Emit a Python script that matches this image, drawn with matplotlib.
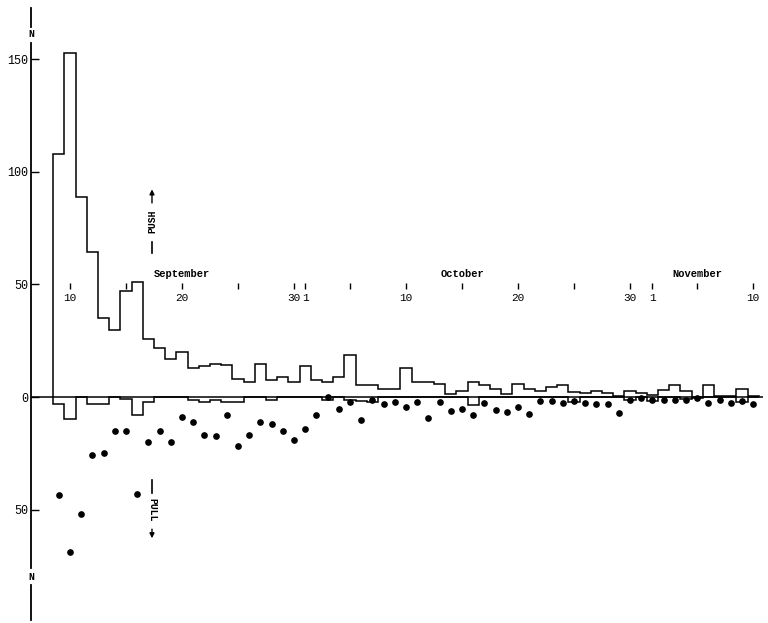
import numpy as np
import matplotlib

matplotlib.use("Agg")
import matplotlib.pyplot as plt

MONO = "Liberation Mono"

# daily counts, one bin per day starting 9 September
first_day = 9
push_counts = [108, 153, 89, 64.6, 35, 30, 47, 51, 26, 22,
               17, 20, 12.7, 14, 14.8, 14.1, 7.9, 6.7, 14.8, 7.7,
               8.7, 6.5, 13.6, 7.6, 6.5, 8.7, 18.8, 5.4, 5.5, 3.7,
               3.7, 12.7, 6.5, 6.5, 5.6, 1.3, 2.6, 6.6, 5.4, 3.6,
               1.3, 5.6, 3.5, 2.6, 4.5, 5.3, 2.4, 1.7, 2.8, 1.7,
               0.6, 2.8, 1.7, 0.8, 3.1, 5.5, 2.8, 0, 5.5, 0.6,
               0.6, 3.6, 0.6]
pull_hist = [3.3, 9.9, 0, 3.0, 3.0, 0, 0.9, 7.9, 2.2, 0,
             0, 0, 1.2, 2.1, 1.2, 2.2, 2.2, 0, 0, 1.4,
             0, 0, 0, 0, 1.5, 0, 1.5, 1.8, 2.2, 0,
             0, 0, 0, 0, 0, 0, 0, 3.5, 0, 0,
             0, 0, 0, 0, 0, 0, 2.0, 0, 0, 0,
             0, 1.5, 0, 1.7, 0, 0, 1.0, 0.4, 0, 0,
             0, 2.0, 0]
pull_dots = [43.6, 68.8, 51.9, 25.9, 25.0, 15.0, 15.1, 42.9, 20.0, 15.1,
             20.0, 8.9, 11.1, 16.9, 17.2, 8.1, 21.8, 17.0, 11.1, 11.9,
             15.0, 19.3, 14.2, 8.1, 0.2, 5.2, 2.1, 10.1, 1.3, 3.3,
             2.4, 4.3, 2.4, 9.2, 2.4, 6.1, 5.3, 8.1, 2.5, 5.6,
             6.5, 4.3, 7.6, 1.7, 1.7, 2.7, 1.6, 2.5, 3.3, 3.3,
             7.2, 1.4, 0.3, 1.4, 1.4, 1.5, 1.5, 0.5, 2.5, 1.5,
             2.8, 1.6, 2.9]

# date axis (day counted from 31 August)
tick_days = [10, 15, 20, 25, 30, 31, 35, 40, 45, 50, 55, 60, 62, 66, 71]
label_days = [10, 20, 30, 31, 40, 50, 60, 62, 71]
label_text = ["10", "20", "30", "1", "10", "20", "30", "1", "10"]
month_days = [20, 45, 66]
month_names = ["September", "October", "November"]

y_ticks = [150, 100, 50, 0, -50]
y_labels = ["150", "100", "50", "0", "50"]

AXIS_X = 6.52

fig = plt.figure(figsize=(7.68, 6.23), dpi=100)
ax = fig.add_axes([0, 0, 1, 1])
ax.set_xlim(3.75, 72.32)
ax.set_ylim(-100.44, 176.44)

n = len(push_counts)
edges = np.arange(n + 1) + first_day - 0.5
days = np.arange(n) + first_day

ax.stairs(push_counts, edges, baseline=0, color="black", lw=1.1)
ax.stairs(-np.array(pull_hist), edges, baseline=0, color="black", lw=1.1)
ax.plot(days, -np.array(pull_dots), "o", color="black", ms=3.8)
ax.hlines(0, AXIS_X, 71.9, color="black", lw=1.1)

# vertical N axis
for s in ["top", "right", "bottom"]:
    ax.spines[s].set_visible(False)
ax.spines["left"].set_position(("data", AXIS_X))
ax.spines["left"].set_bounds(-76, 157.3)
ax.spines["left"].set_linewidth(1.3)
ax.set_xticks([])
ax.set_yticks(y_ticks)
ax.set_yticklabels(y_labels, fontfamily=MONO, fontsize=8.5)
ax.tick_params(axis="y", direction="in", length=6, width=1, pad=2)
ax.plot([AXIS_X, AXIS_X], [164.4, 172.9], color="black", lw=1.3)
ax.plot([AXIS_X, AXIS_X], [-83.6, -99.1], color="black", lw=1.3)
ax.text(AXIS_X, 161.5, "N", ha="center", va="center", fontsize=7,
        family=MONO, fontweight="bold")
ax.text(AXIS_X, -80.2, "N", ha="center", va="center", fontsize=7,
        family=MONO, fontweight="bold")

# date ticks drawn inside the plot
ax.vlines(tick_days, 48.0, 50.5, color="black", lw=1.0)
for d, t in zip(label_days, label_text):
    ax.text(d, 43.8, t, ha="center", va="center", fontsize=8, family=MONO)
for d, m in zip(month_days, month_names):
    ax.text(d, 54.8, m, ha="center", va="center", fontsize=7.5, family=MONO,
            fontweight="bold")

# PUSH / PULL markers
px = 17.32
ax.annotate("", xy=(px, 93.5), xytext=(px, 85.0),
            arrowprops=dict(arrowstyle="-|>", lw=1.0, color="black",
                            mutation_scale=7))
ax.text(px, 78.0, "PUSH", rotation=90, ha="center", va="center",
        fontsize=7, family=MONO, fontweight="bold")
ax.plot([px, px], [64.0, 68.9], color="black", lw=1.2)

ax.plot([px, px], [-36.9, -42.7], color="black", lw=1.2)
ax.text(px, -50.2, "PULL", rotation=270, ha="center", va="center",
        fontsize=7, family=MONO, fontweight="bold")
ax.annotate("", xy=(px, -64.0), xytext=(px, -57.5),
            arrowprops=dict(arrowstyle="-|>", lw=1.0, color="black",
                            mutation_scale=7))

fig.savefig("out.png", dpi=100)
